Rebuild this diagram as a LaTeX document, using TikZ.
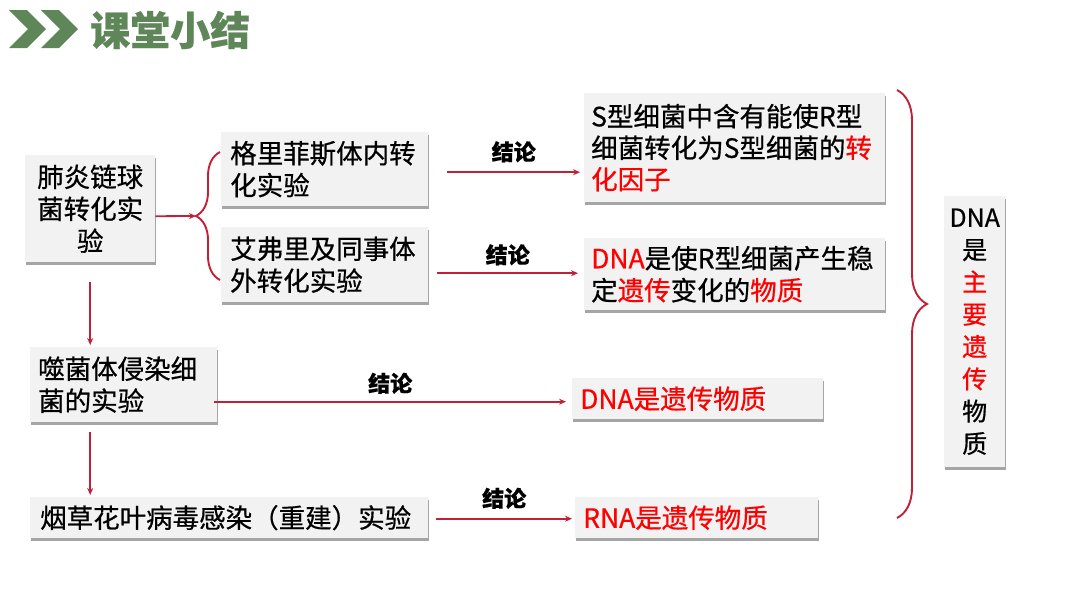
\documentclass[tikz,border=0pt]{standalone}
\usepackage{fontspec}
\setmainfont{Noto Sans CJK SC}[FakeBold=0.6]
\usepackage{xcolor}
\usepackage{tikz}
\usetikzlibrary{calc}
\usetikzlibrary{positioning}
\usetikzlibrary{arrows.meta}
\usetikzlibrary{shadows}
\usetikzlibrary{decorations.pathreplacing}
\definecolor{titlegreen}{RGB}{94,134,88}
\definecolor{linered}{RGB}{192,32,56}
\definecolor{keyred}{RGB}{255,0,0}
\definecolor{boxgray}{RGB}{242,242,242}

\begin{document}
\begin{tikzpicture}[x=1pt,y=-1pt]
  \tikzset{every node/.style={inner sep=0pt,font=\fontsize{26.5}{32}\selectfont},
    card/.style={fill=boxgray,anchor=north west,inner xsep=9pt,align=left,
      drop shadow={shadow xshift=1pt,shadow yshift=-2.5pt,opacity=0.5,fill=black!70}},
    link/.style={draw=linered,line width=1.8pt,-{Stealth[length=7pt,width=6pt]}},
    bracket/.style={draw=linered,line width=1.9pt,decorate,decoration={brace,amplitude=#1}},
    verdict/.style={font=\fontsize{22}{26}\selectfont\bfseries}};
  \useasboundingbox (0,0) rectangle (1080,608);
  % heading
  \fill[titlegreen] (9,10) -- (27,10) -- (46,29) -- (27,48) -- (9,48) -- (28,29) -- cycle;
  \fill[titlegreen] (41,10) -- (59,10) -- (78,29) -- (59,48) -- (41,48) -- (60,29) -- cycle;
  \node[anchor=west, text=titlegreen, font=\fontsize{40}{44}\selectfont\bfseries] (title) at (90,30) {课堂小结};
  % experiments
  \node[card, minimum width=130pt, minimum height=107pt, text width=112pt, align=center] (lung) at (25,155) {肺炎链球\\菌转化实\\验};
  \node[card, minimum width=207pt, minimum height=74pt, text width=189pt] (griffith) at (221,132) {格里菲斯体内转\\化实验};
  \node[card, minimum width=207pt, minimum height=75pt, text width=189pt] (avery) at (221,227) {艾弗里及同事体\\外转化实验};
  \node[card, minimum width=187pt, minimum height=75pt, text width=171pt, inner xsep=8pt] (phage) at (30,347) {噬菌体侵染细\\菌的实验};
  \node[card, minimum width=398pt, minimum height=41pt, text width=378pt, inner xsep=10pt] (tmv) at (30,497) {烟草花叶病毒感染（重建）实验};
  % conclusions
  \node[card, minimum width=301pt, minimum height=109pt, text width=287pt, inner xsep=7pt, font=\fontsize{26.5}{31.5}\selectfont] (factor) at (584,93) {S型细菌中含有能使R型\\细菌转化为S型细菌的\textcolor{keyred}{转}\\\textcolor{keyred}{化因子}};
  \node[card, minimum width=301pt, minimum height=72pt, text width=287pt, inner xsep=7pt] (dnastable) at (584,238) {\textcolor{keyred}{DNA}是使R型细菌产生稳\\定\textcolor{keyred}{遗传}变化的\textcolor{keyred}{物质}};
  \node[card, minimum width=251pt, minimum height=41pt, text width=235pt, inner xsep=8pt, text=keyred] (dnagen) at (572,378) {DNA是遗传物质};
  \node[card, minimum width=243pt, minimum height=41pt, text width=227pt, inner xsep=8pt, text=keyred] (rnagen) at (575,497) {RNA是遗传物质};
  \node[card, minimum width=61pt, minimum height=271pt, align=center, inner xsep=0pt, font=\fontsize{25}{32.3}\selectfont] (mainmat) at (944,196) {DNA\\是\\\textcolor{keyred}{主}\\\textcolor{keyred}{要}\\\textcolor{keyred}{遗}\\\textcolor{keyred}{传}\\物\\质};
  % braces
  \draw[bracket=24pt] (220,280) -- (220,152);
  \coordinate (lbrace) at (196,216);
  \draw[bracket=30pt] (897,90) -- (897,518);
  % arrows
  \draw[link] ($(lung.east)+(0,7.5)$) -- (lbrace);
  \draw[link] ($(lung.south)+(0,20)$) -- ($(lung.south |- phage.north)+(0,-2)$);
  \draw[link] ($(lung.south |- phage.south)+(0,10)$) -- ($(lung.south |- tmv.north)+(0,-2)$);
  \draw[link] ($(griffith.east)+(19,3)$) -- ($(griffith.east -| factor.west)+(-4,3)$) node[verdict, midway, above=9pt] (v1) {结论};
  \draw[link] ($(avery.east)+(9,8.5)$) -- ($(avery.east -| dnastable.west)+(-6,8.5)$) node[verdict, midway, above=7pt] (v2) {结论};
  \draw[link] ($(phage.east)+(-3,17)$) -- ($(phage.east -| dnagen.west)+(-6,17)$) node[verdict, midway, above=7pt] (v3) {结论};
  \draw[link] ($(tmv.east)+(8,1)$) -- ($(tmv.east -| rnagen.west)+(-3,1)$) node[verdict, midway, above=9pt] (v4) {结论};
\end{tikzpicture}
\end{document}
